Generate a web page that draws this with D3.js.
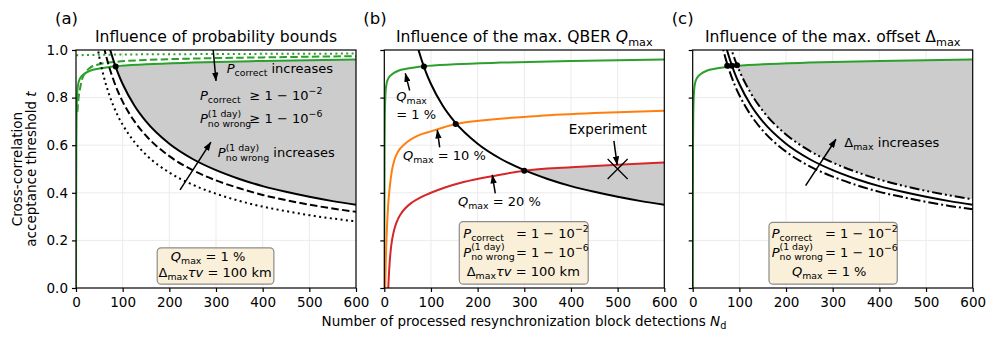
<!DOCTYPE html>
<html>
<head>
<meta charset="utf-8">
<script src="https://cdn.jsdelivr.net/npm/d3@7"></script>
<style>
  body { margin: 0; background: #fff; }
  svg { font-family: "DejaVu Sans", sans-serif; }
</style>
</head>
<body>
<div id="chart"></div>
<script>
// ---- data ----
var xTicks = [0, 100, 200, 300, 400, 500, 600];
var yTicks = [0, 0.2, 0.4, 0.6, 0.8, 1.0];

// black threshold curves (probability bound / offset), common N grid
var nBound = [40, 50, 60, 70, 80, 90, 100, 125, 150, 200, 250, 300, 350, 400, 450, 500, 550, 600];
var tBoundSolid      = [1.355, 1.212, 1.106, 1.024, 0.958, 0.903, 0.857, 0.767, 0.700, 0.606, 0.542, 0.495, 0.458, 0.428, 0.404, 0.383, 0.365, 0.350];
var tBoundDashed     = [1.238, 1.108, 1.011, 0.936, 0.876, 0.825, 0.783, 0.701, 0.640, 0.554, 0.495, 0.452, 0.419, 0.391, 0.369, 0.350, 0.334, 0.320];
var tBoundDotted     = [1.084, 0.970, 0.885, 0.819, 0.766, 0.722, 0.686, 0.614, 0.560, 0.485, 0.434, 0.396, 0.366, 0.342, 0.323, 0.306, 0.292, 0.280];
var tBoundDashDot    = [1.280, 1.145, 1.045, 0.968, 0.905, 0.853, 0.810, 0.725, 0.662, 0.573, 0.512, 0.468, 0.433, 0.404, 0.382, 0.362, 0.345, 0.331];
var tBoundDashDotDot = [1.443, 1.291, 1.178, 1.091, 1.020, 0.962, 0.913, 0.817, 0.745, 0.645, 0.577, 0.527, 0.488, 0.456, 0.430, 0.408, 0.389, 0.373];

// QBER curves
var nQ1 = [0, 0.3, 0.7, 1.2, 2, 3, 5, 8, 12, 20, 30, 50, 85, 150, 250, 400, 600];
var tQ1 = [0, 0.35, 0.60, 0.72, 0.79, 0.83, 0.86, 0.878, 0.89, 0.903, 0.913, 0.922, 0.932, 0.940, 0.947, 0.954, 0.960];
var nQ1Dashed = [3, 5, 8, 12, 20, 30, 50, 85, 150, 250, 400, 600];
var tQ1Dashed = [0.74, 0.79, 0.83, 0.87, 0.905, 0.925, 0.940, 0.950, 0.958, 0.964, 0.969, 0.974];
var nQ1Dotted = [0.5, 100, 300, 600];
var tQ1Dotted = [0.978, 0.981, 0.983, 0.985];
var nQ10 = [2, 3, 5, 8, 12, 16, 22, 30, 44, 72, 100, 153, 220, 330, 450, 600];
var tQ10 = [0, 0.10, 0.22, 0.34, 0.43, 0.49, 0.54, 0.575, 0.605, 0.640, 0.658, 0.689, 0.706, 0.723, 0.735, 0.745];
var nQ20 = [8.5, 10, 12, 15, 20, 26, 35, 45, 60, 80, 100, 130, 170, 240, 300, 400, 500, 600];
var tQ20 = [0, 0.06, 0.12, 0.18, 0.235, 0.275, 0.31, 0.335, 0.36, 0.383, 0.400, 0.422, 0.445, 0.473, 0.493, 0.507, 0.518, 0.527];

// crossing points and experiment
var crossA = [[85, 0.931]];
var crossB = [[85, 0.931], [153, 0.689], [300, 0.493]];
var crossC = [[74, 0.934], [84, 0.934], [95, 0.936]];
var experiment = [500, 0.50];

// ---- layout ----
var W = 996, H = 340;
var yTop = 50, yBottom = 288, panelW = 280;
var panelX = [76, 384.3, 692.7];
var fs = 13;       // annotation text
var fsAxis = 13.5; // ticks and axis labels

var green = "#2ca02c", orange = "#ff7f0e", red = "#d62728";

var svg = d3.select("#chart").append("svg")
            .attr("width", W)
            .attr("height", H);

var defs = svg.append("defs");
defs.append("marker")
    .attr("id", "ah")
    .attr("viewBox", "0 -3.2 9 6.4")
    .attr("refX", 8.5).attr("refY", 0)
    .attr("markerWidth", 9).attr("markerHeight", 6.4)
    .attr("markerUnits", "userSpaceOnUse")
    .attr("orient", "auto")
  .append("path")
    .attr("d", "M0,-3.2L9,0L0,3.2Z")
    .attr("fill", "#000");

function zip(ns, ts) { return ns.map(function(n, i) { return [n, ts[i]]; }); }

function nb(s) { return s.replace(/ /g, "\u00a0"); }

// simple mathtext-ish text: tokens are strings or {s, i, sub, sup} or {stack:[sub, sup]}
function mtext(g, x, y, tokens, anchor, size) {
  size = size || fs;
  var grp = g.append("g");
  var cx = 0;
  tokens.forEach(function(tk) {
    if (typeof tk === "string") tk = {s: tk};
    if (tk.stack) {
      var a = grp.append("text").attr("x", cx).attr("y", size * 0.3)
                 .attr("font-size", size * 0.72).text(nb(tk.stack[0]));
      var b = grp.append("text").attr("x", cx).attr("y", -size * 0.47)
                 .attr("font-size", size * 0.72).text(nb(tk.stack[1]));
      cx += Math.max(a.node().getComputedTextLength(), b.node().getComputedTextLength());
      return;
    }
    var f = size, dy = 0;
    if (tk.sub) { f = size * 0.72; dy = size * 0.24; }
    if (tk.sup) { f = size * 0.72; dy = -size * 0.45; }
    var t = grp.append("text").attr("x", cx).attr("y", dy)
               .attr("font-size", f)
               .style("font-style", tk.i ? "italic" : "normal")
               .text(nb(tk.s));
    cx += t.node().getComputedTextLength();
  });
  var shift = anchor === "middle" ? -cx / 2 : (anchor === "end" ? -cx : 0);
  grp.attr("transform", "translate(" + (x + shift) + "," + y + ")");
  return cx;
}

var Pc = [{s: "P", i: 1}, {s: "correct", sub: 1}];
var Pnw = [{s: "P", i: 1}, {stack: ["no wrong", "(1 day)"]}];
var Qm = [{s: "Q", i: 1}, {s: "max", sub: 1}];
var Dm = [{s: "Δ"}, {s: "max", sub: 1}];

function makePanel(k) {
  var x0 = panelX[k];
  var x = d3.scaleLinear().domain([0, 600]).range([x0, x0 + panelW]);
  var y = d3.scaleLinear().domain([0, 1]).range([yBottom, yTop]);
  var g = svg.append("g");

  g.append("clipPath").attr("id", "clip" + k)
    .append("rect").attr("x", x0).attr("y", yTop)
    .attr("width", panelW).attr("height", yBottom - yTop);

  // grid
  g.selectAll(".gx").data(xTicks.slice(1, -1)).enter().append("line")
    .attr("x1", function(d) { return x(d); }).attr("x2", function(d) { return x(d); })
    .attr("y1", yTop).attr("y2", yBottom)
    .attr("stroke", "#ebebeb").attr("stroke-width", 1);
  g.selectAll(".gy").data(yTicks.slice(1, -1)).enter().append("line")
    .attr("y1", function(d) { return y(d); }).attr("y2", function(d) { return y(d); })
    .attr("x1", x0).attr("x2", x0 + panelW)
    .attr("stroke", "#ebebeb").attr("stroke-width", 1);

  var plot = g.append("g").attr("clip-path", "url(#clip" + k + ")");
  var line = d3.line().x(function(d) { return x(d[0]); }).y(function(d) { return y(d[1]); })
               .curve(d3.curveMonotoneX);

  return {x: x, y: y, g: g, plot: plot, line: line, x0: x0};
}

function fillBetween(p, upper, lower, cross) {
  var up = [cross].concat(upper.filter(function(d) { return d[0] > cross[0]; }));
  var lo = [cross].concat(lower.filter(function(d) { return d[0] > cross[0]; })).reverse();
  var path = p.line(up) + p.line(lo).replace(/^M/, "L") + "Z";
  p.plot.append("path").attr("d", path).attr("fill", "#cccccc").attr("stroke", "none");
}

function curve(p, data, color, dash) {
  p.plot.append("path").attr("d", p.line(data))
    .attr("fill", "none").attr("stroke", color).attr("stroke-width", 2)
    .attr("stroke-dasharray", dash || null);
}

function dots(p, pts) {
  p.plot.selectAll(".dot").data(pts).enter().append("circle")
    .attr("cx", function(d) { return p.x(d[0]); })
    .attr("cy", function(d) { return p.y(d[1]); })
    .attr("r", 3).attr("fill", "#000");
}

function arrow(p, from, to) {
  p.g.append("line")
    .attr("x1", p.x(from[0])).attr("y1", p.y(from[1]))
    .attr("x2", p.x(to[0])).attr("y2", p.y(to[1]))
    .attr("stroke", "#000").attr("stroke-width", 1.5)
    .attr("marker-end", "url(#ah)");
}

function box(p, n0, n1, t0, t1) {
  p.g.append("rect")
    .attr("x", p.x(n0)).attr("y", p.y(t1))
    .attr("width", p.x(n1) - p.x(n0)).attr("height", p.y(t0) - p.y(t1))
    .attr("rx", 4)
    .attr("fill", "#faefd9").attr("stroke", "#8c8c8c").attr("stroke-width", 1.2);
}

function frameAndAxes(p, k, title) {
  var gx = p.g.append("g").attr("transform", "translate(0," + yBottom + ")")
    .call(d3.axisBottom(p.x).tickValues(xTicks).tickSize(4).tickPadding(5).tickFormat(d3.format("d")));
  gx.select(".domain").remove();
  var gy = p.g.append("g").attr("transform", "translate(" + p.x0 + ",0)")
    .call(d3.axisLeft(p.y).tickValues(yTicks).tickSize(4).tickPadding(4)
      .tickFormat(k === 0 ? d3.format(".1f") : function() { return ""; }));
  gy.select(".domain").remove();
  p.g.selectAll(".tick text").attr("font-size", fsAxis).attr("font-family", "DejaVu Sans").attr("fill", "#000");
  p.g.selectAll(".tick line").attr("stroke", "#000").attr("stroke-width", 1.2);

  p.g.append("rect").attr("x", p.x0).attr("y", yTop)
    .attr("width", panelW).attr("height", yBottom - yTop)
    .attr("fill", "none").attr("stroke", "#000").attr("stroke-width", 1.2);

  p.g.append("text").attr("x", p.x0 - 21).attr("y", 24)
    .attr("font-size", 16.5).text("(" + "abc"[k] + ")");
  mtext(p.g, p.x0 + panelW / 2, 42, title, "middle", 15.6);
}

// ---- panel (a) ----
var pa = makePanel(0);
fillBetween(pa, zip(nQ1, tQ1), zip(nBound, tBoundSolid), crossA[0]);
curve(pa, zip(nQ1Dotted, tQ1Dotted), green, "2,3.4");
curve(pa, zip(nQ1Dashed, tQ1Dashed), green, "7.5,3.3");
curve(pa, zip(nQ1, tQ1), green);
curve(pa, zip(nBound, tBoundDotted), "#000", "2,3.4");
curve(pa, zip(nBound, tBoundDashed), "#000", "7.5,3.3");
curve(pa, zip(nBound, tBoundSolid), "#000");
dots(pa, crossA);

arrow(pa, [294, 1.0], [300, 0.87]);
mtext(pa.g, pa.x(323), pa.y(0.902), Pc.concat([" increases"]));
mtext(pa.g, pa.x(265.7), pa.y(0.79), Pc);
mtext(pa.g, pa.x(372), pa.y(0.79), ["≥ 1 − 10", {s: "−2", sup: 1}]);
mtext(pa.g, pa.x(265.7), pa.y(0.693), Pnw);
mtext(pa.g, pa.x(372), pa.y(0.693), ["≥ 1 − 10", {s: "−6", sup: 1}]);
mtext(pa.g, pa.x(304), pa.y(0.55), Pnw.concat([" increases"]));
arrow(pa, [223, 0.412], [289, 0.613]);
box(pa, 174, 424, 0.016, 0.169);
mtext(pa.g, pa.x(283), pa.y(0.115), Qm.concat([" = 1 %"]), "middle");
mtext(pa.g, pa.x(298), pa.y(0.045), Dm.concat([{s: "τv", i: 1}, " = 100 km"]), "middle");
frameAndAxes(pa, 0, ["Influence of probability bounds"]);

// ---- panel (b) ----
var pb = makePanel(1);
fillBetween(pb, zip(nQ20, tQ20), zip(nBound, tBoundSolid), crossB[2]);
curve(pb, zip(nQ1, tQ1), green);
curve(pb, zip(nQ10, tQ10), orange);
curve(pb, zip(nQ20, tQ20), red);
curve(pb, zip(nBound, tBoundSolid), "#000");
dots(pb, crossB);
// experiment marker
var ex = pb.x(experiment[0]), ey = pb.y(experiment[1]);
pb.g.append("path")
  .attr("d", "M" + (ex - 10) + "," + (ey - 10) + "L" + (ex + 10) + "," + (ey + 10) +
             "M" + (ex - 10) + "," + (ey + 10) + "L" + (ex + 10) + "," + (ey - 10))
  .attr("stroke", "#000").attr("stroke-width", 1.3);
pb.g.append("text").attr("x", pb.x(479)).attr("y", pb.y(0.646))
  .attr("text-anchor", "middle").attr("font-size", fsAxis).text("Experiment");
arrow(pb, [492, 0.618], [499, 0.517]);

mtext(pb.g, pb.x(25.7), pb.y(0.786), Qm);
mtext(pb.g, pb.x(25.7), pb.y(0.71), ["= 1 %"]);
arrow(pb, [54.4, 0.83], [45, 0.902]);
mtext(pb.g, pb.x(40), pb.y(0.538), Qm.concat([" = 10 %"]));
arrow(pb, [118.7, 0.591], [113.6, 0.664]);
mtext(pb.g, pb.x(158), pb.y(0.346), Qm.concat([" = 20 %"]));
arrow(pb, [237.8, 0.398], [231.4, 0.475]);

box(pb, 160.7, 437, 0.016, 0.279);
mtext(pb.g, pb.x(169.3), pb.y(0.209), Pc);
mtext(pb.g, pb.x(282), pb.y(0.209), ["= 1 − 10", {s: "−2", sup: 1}]);
mtext(pb.g, pb.x(169.3), pb.y(0.132), Pnw);
mtext(pb.g, pb.x(282), pb.y(0.132), ["= 1 − 10", {s: "−6", sup: 1}]);
mtext(pb.g, pb.x(176.6), pb.y(0.05), Dm.concat([{s: "τv", i: 1}, " = 100 km"]));
frameAndAxes(pb, 1, ["Influence of the max. QBER ", {s: "Q", i: 1}, {s: "max", sub: 1}]);

// ---- panel (c) ----
var pc = makePanel(2);
fillBetween(pc, zip(nQ1, tQ1), zip(nBound, tBoundDashDotDot), crossC[2]);
curve(pc, zip(nQ1, tQ1), green);
curve(pc, zip(nBound, tBoundDashDot), "#000", "10,3,2,3");
curve(pc, zip(nBound, tBoundSolid), "#000");
curve(pc, zip(nBound, tBoundDashDotDot), "#000", "10,3,2,3,2,3");
dots(pc, crossC);

arrow(pc, [242, 0.43], [307, 0.625]);
mtext(pc.g, pc.x(325), pc.y(0.594), Dm.concat([" increases"]));
box(pc, 163.5, 438.4, 0.016, 0.276);
mtext(pc.g, pc.x(169.3), pc.y(0.209), Pc);
mtext(pc.g, pc.x(283.5), pc.y(0.209), ["= 1 − 10", {s: "−2", sup: 1}]);
mtext(pc.g, pc.x(169.3), pc.y(0.132), Pnw);
mtext(pc.g, pc.x(283.5), pc.y(0.132), ["= 1 − 10", {s: "−6", sup: 1}]);
mtext(pc.g, pc.x(287), pc.y(0.05), Qm.concat([" "]), "end");
mtext(pc.g, pc.x(287), pc.y(0.05), ["= 1 %"]);
frameAndAxes(pc, 2, ["Influence of the max. offset Δ", {s: "max", sub: 1}]);

// ---- axis labels ----
svg.append("text")
  .attr("transform", "translate(22," + ((yTop + yBottom) / 2) + ") rotate(-90)")
  .attr("text-anchor", "middle").attr("font-size", fsAxis)
  .text("Cross-correlation");
mtext(svg.append("g").attr("transform", "translate(36," + ((yTop + yBottom) / 2) + ") rotate(-90)"),
      0, 0, ["acceptance threshold ", {s: "t", i: 1}], "middle", fsAxis);
mtext(svg, 524, 326, ["Number of processed resynchronization block detections ", {s: "N", i: 1}, {s: "d", sub: 1}], "middle", fsAxis);
</script>
</body>
</html>
